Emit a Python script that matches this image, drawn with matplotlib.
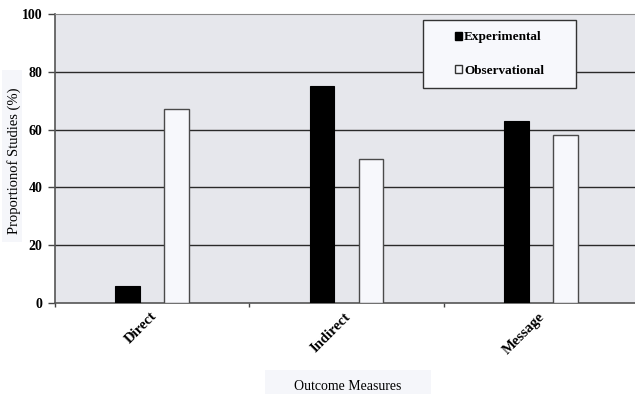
import matplotlib.pyplot as plt
import numpy as np
from matplotlib.patches import Patch, Rectangle

# Data
categories = ['Direct', 'Indirect', 'Message']
experimental = [6, 75, 63]
observational = [67, 50, 58]
yticks = [0, 20, 40, 60, 80, 100]

plt.rcParams['font.family'] = ['Liberation Serif', 'DejaVu Serif']

fig = plt.figure(figsize=(6.35, 3.94), dpi=100)
W, H = 635, 394

# axes placed in pixel units
ax_l, ax_r, ax_t, ax_b = 55, 638, 14, 303
ax = fig.add_axes([ax_l / W, 1 - ax_b / H, (ax_r - ax_l) / W, (ax_b - ax_t) / H])
ax.set_facecolor('#e6e7ec')

x = np.arange(len(categories))
bw = 0.128
off = 0.126
ax.bar(x - off, experimental, bw, color='black', edgecolor='black', linewidth=0.8, zorder=3)
ax.bar(x + off, observational, bw, color='#f7f8fc', edgecolor='#4a4a4a', linewidth=1.0, zorder=3)

ax.set_xlim(-0.5, 2.5)
ax.set_ylim(0, 100)

for v in yticks[1:-1]:
    ax.axhline(v, color='#2a2a2a', linewidth=1.0, zorder=1)

ax.set_yticks(yticks)
ax.set_yticklabels([str(v) for v in yticks], fontweight='bold', fontsize=10)
ax.tick_params(axis='y', length=5, width=1, color='#444444', pad=4)

# ticks between categories, labels at category centers
ax.set_xticks([-0.5, 0.5, 1.5])
ax.set_xticklabels([])
ax.tick_params(axis='x', length=3, width=1, color='#444444', direction='out')
for xi, name in zip(x, categories):
    ax.text(xi - 0.012, -2.4, name, rotation=45, ha='right', va='top',
            rotation_mode='anchor', fontsize=10.5, fontweight='bold',
            transform=ax.transData)

for s in ['left', 'bottom']:
    ax.spines[s].set_color('#555555')
    ax.spines[s].set_linewidth(1.2)
ax.spines['top'].set_color('#888888')
ax.spines['right'].set_color('#888888')

# legend box
lx0, lx1, ly0, ly1 = 423, 576, 20, 88
box = Rectangle(((lx0 - ax_l) / (ax_r - ax_l), (ax_b - ly1) / (ax_b - ax_t)),
                (lx1 - lx0) / (ax_r - ax_l), (ly1 - ly0) / (ax_b - ax_t),
                transform=ax.transAxes, facecolor='#f7f8fc', edgecolor='#333333',
                linewidth=1.0, zorder=4)
ax.add_patch(box)
handles = [Patch(facecolor='black', edgecolor='black', label='Experimental'),
           Patch(facecolor='#f7f8fc', edgecolor='#333333', label='Observational')]
leg = ax.legend(handles=handles, loc='center',
                bbox_to_anchor=(((lx0 + lx1) / 2 - ax_l) / (ax_r - ax_l),
                                (ax_b - (ly0 + ly1) / 2) / (ax_b - ax_t)),
                frameon=False, prop={'weight': 'bold', 'size': 9.5},
                handlelength=0.55, handleheight=0.55, handletextpad=0.15,
                labelspacing=1.6)
leg.set_zorder(5)

# axis label boxes
fig.patches.append(Rectangle((2 / W, 1 - 242 / H), 20 / W, 172 / H,
                             transform=fig.transFigure, facecolor='#f5f6fa',
                             edgecolor='none', zorder=0))
fig.text(14 / W, 1 - 161 / H, 'Proportionof Studies (%)', rotation=90,
         ha='center', va='center', fontsize=10.5)

fig.patches.append(Rectangle((265 / W, 0), 166 / W, 24 / H,
                             transform=fig.transFigure, facecolor='#f5f6fa',
                             edgecolor='none', zorder=0))
fig.text(348 / W, 1 - 387 / H, 'Outcome Measures', ha='center', va='center', fontsize=10)

fig.savefig('out.png', dpi=100)
